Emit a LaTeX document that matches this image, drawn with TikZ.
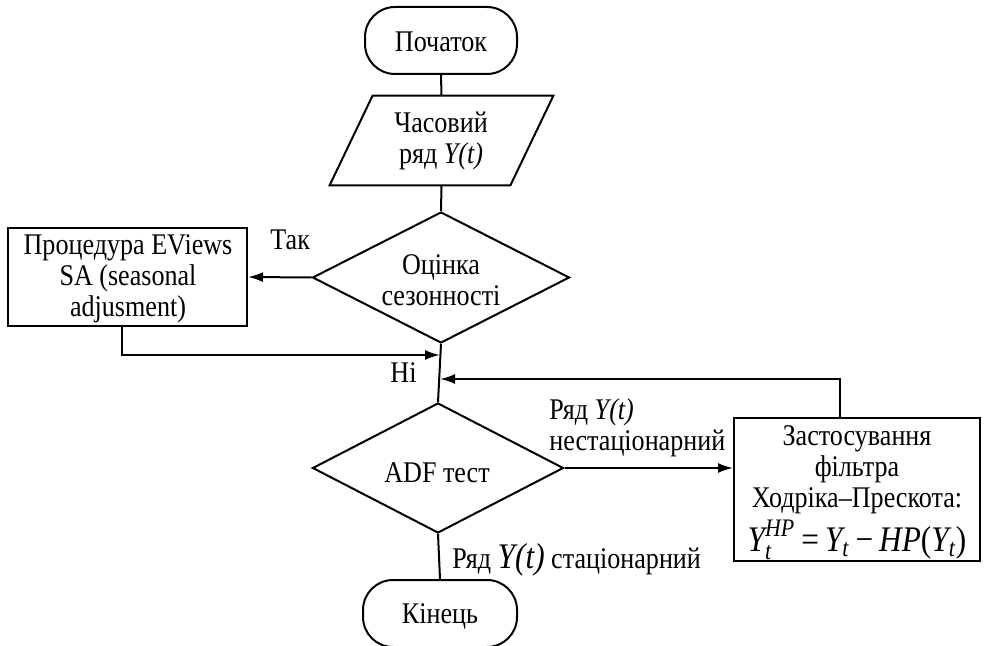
\documentclass[tikz,border=0pt]{standalone}
\usepackage{amsmath}
\usepackage{fontspec}
\setmainfont{Liberation Serif}[FakeStretch=0.87]
\usetikzlibrary{shapes.geometric,arrows.meta,calc}
\begin{document}
\begin{tikzpicture}[x=0.5pt,y=-0.5pt,
  every node/.style={font=\fontsize{15}{15.5}\selectfont, inner sep=0pt},
  line/.style={line width=1pt},
  arr/.style={line width=1pt,-{Latex[length=7.5pt,width=5pt]}},
  term/.style={draw,line width=1pt,rectangle,rounded corners=15pt,minimum width=76pt,minimum height=33.5pt},
  decide/.style={draw,line width=1pt,diamond},
  procbox/.style={draw,line width=1pt,rectangle},
  lbl/.style={anchor=base west}
]
\useasboundingbox (0,0) rectangle (984,646);

% shapes
\node[term] (start) at (441,40.5) {};
\node (starttxt) at (441,42) {Початок};

\node[minimum width=90pt,minimum height=44.5pt] (data) at (441.5,140.5) {};
\draw[line,line join=miter] ($(data.north west)+(21.5,0)$) -- ($(data.north east)+(21.5,0)$)
   -- ($(data.south east)+(-21.5,0)$) -- ($(data.south west)+(-21.5,0)$) -- cycle;
\node[align=center] (datatxt) at (441,141) {Часовий\\ряд \textit{Y(t)}};

\node[decide,minimum width=128.5pt,minimum height=65.5pt] (d1) at (441,277.5) {};
\node[align=center] (d1txt) at (441,280) {Оцінка\\сезонності};

\node[procbox,minimum width=119.5pt,minimum height=49pt] (sa) at (127.5,277) {};
\node[align=center] (satxt) at (128,279) {Процедура EViews\\SA (seasonal\\adjusment)};

\node[decide,minimum width=125.5pt,minimum height=65pt] (adf) at (438,468) {};
\node (adftxt) at (437,473) {ADF тест};

\node[procbox,minimum width=123pt,minimum height=71.5pt] (hp) at (857,489.5) {};
\node[align=center] (hptxt) at (857,493) {Застосування\\фільтра\\Ходріка–Прескота:\\[2pt]
  {\fontsize{18}{18}\selectfont $\textit{Y}^{\textit{HP}}_{\textit{t}}$\hspace{3pt}=\hspace{3pt}$\textit{Y}_{\textit{t}}$\hspace{3pt}−\hspace{3pt}\textit{HP}($\textit{Y}_{\textit{t}}$)}};

\node[term,minimum width=77pt] (end) at (440,613.5) {};
\node (endtxt) at (440,616) {Кінець};

% junctions
\coordinate (j1) at (440,355);
\coordinate (j2) at (440,379);

% connectors
\draw[line] (start.south) -- (data.north);
\draw[line] (data.south) -- (d1.north);
\draw[arr] (d1.west) -- (sa.east);
\draw[arr] ([xshift=-3pt]sa.south) |- (j1);
\draw[line] (d1.south) -- (adf.north);
\draw[arr] ([xshift=-8.5pt]hp.north) |- (j2);
\draw[arr] (adf.east) -- (adf.east -| hp.west);
\draw[line] (adf.south) -- (end.north);

% labels
\node[lbl] (tak) at (270,250) {Так};
\node[lbl] (ni) at (390,382) {Ні};
\node[lbl] (ns1) at (549,419) {Ряд \textit{Y(t)}};
\node[lbl] (ns2) at (549,450) {нестаціонарний};
\node[lbl] (st) at (452,568) {Ряд {\fontsize{18}{18}\selectfont\textit{Y(t)}} стаціонарний};
\end{tikzpicture}
\end{document}
